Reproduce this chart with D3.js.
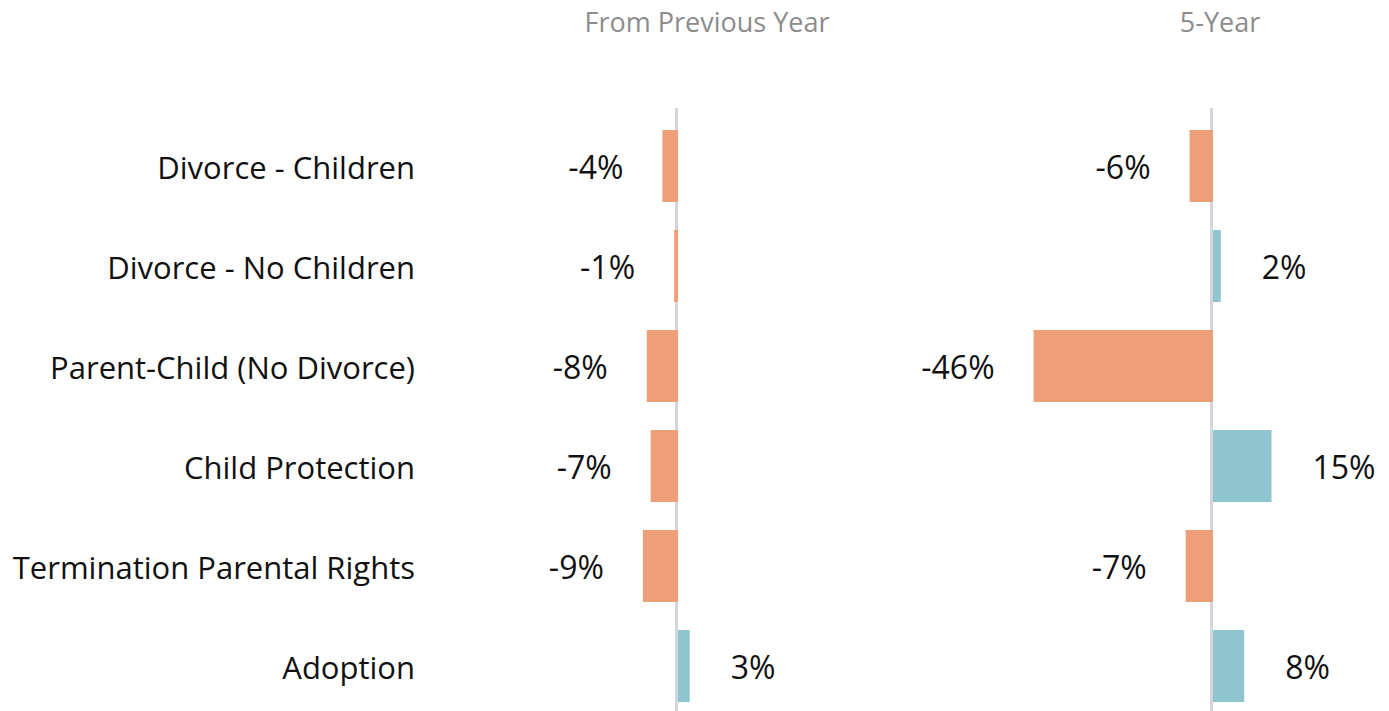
<!DOCTYPE html>
<html><head><meta charset="utf-8">
<script src="https://cdn.jsdelivr.net/npm/d3@7"></script>
<style>html,body{margin:0;padding:0;background:#fff;}svg{display:block;}</style>
</head><body>
<svg id="c" width="1389" height="711"></svg>
<script>
const categories = ["Divorce - Children","Divorce - No Children","Parent-Child (No Divorce)","Child Protection","Termination Parental Rights","Adoption"];
const prevYear = [-4,-1,-8,-7,-9,3];
const fiveYear = [-6,2,-46,15,-7,8];
const panelTitles = ["From Previous Year","5-Year"];

const svg = d3.select("#c");
const font = "'Open Sans', sans-serif";
const y = d3.scaleBand().domain(categories).range([116,716]).paddingInner(0.28).paddingOuter(0.14);
const pxPer = 3.9;
const panels = [
  {title: panelTitles[0], values: prevYear, zero: 678, titleX: 707},
  {title: panelTitles[1], values: fiveYear, zero: 1213, titleX: 1220}
];
const neg = "#EE9E79", pos = "#8FC5CF";

// category labels
svg.append("g").selectAll("text").data(categories).join("text")
  .attr("x",415).attr("y",d=>y(d)+y.bandwidth()/2+13)
  .attr("text-anchor","end").attr("font-family",font).attr("font-size",31).attr("fill","#111")
  .text(d=>d);

panels.forEach(p=>{
  const x = d3.scaleLinear().domain([-1,1]).range([p.zero-pxPer,p.zero+pxPer]);
  const g = svg.append("g");
  g.append("text").attr("x",p.titleX).attr("y",32).attr("text-anchor","middle")
   .attr("font-family",font).attr("font-size",27).attr("fill","#8c8c8c").text(p.title);
  g.append("line").attr("x1",x(0)-1.5).attr("x2",x(0)-1.5).attr("y1",108).attr("y2",711)
   .attr("stroke","#d3d5da").attr("stroke-width",3);
  const data = categories.map((c,i)=>({c, v:p.values[i]}));
  g.selectAll("rect").data(data).join("rect")
   .attr("x",d=>Math.min(x(0),x(d.v))).attr("width",d=>Math.abs(x(d.v)-x(0)))
   .attr("y",d=>y(d.c)).attr("height",y.bandwidth())
   .attr("fill",d=>d.v<0?neg:pos);
  g.selectAll("text.v").data(data).join("text").attr("class","v")
   .attr("x",d=>d.v<0? x(d.v)-39 : x(d.v)+41)
   .attr("y",d=>y(d.c)+y.bandwidth()/2+13)
   .attr("text-anchor",d=>d.v<0?"end":"start")
   .attr("font-family",font).attr("font-size",32).attr("fill","#111")
   .text(d=>d.v+"%");
});
</script>
</body></html>
